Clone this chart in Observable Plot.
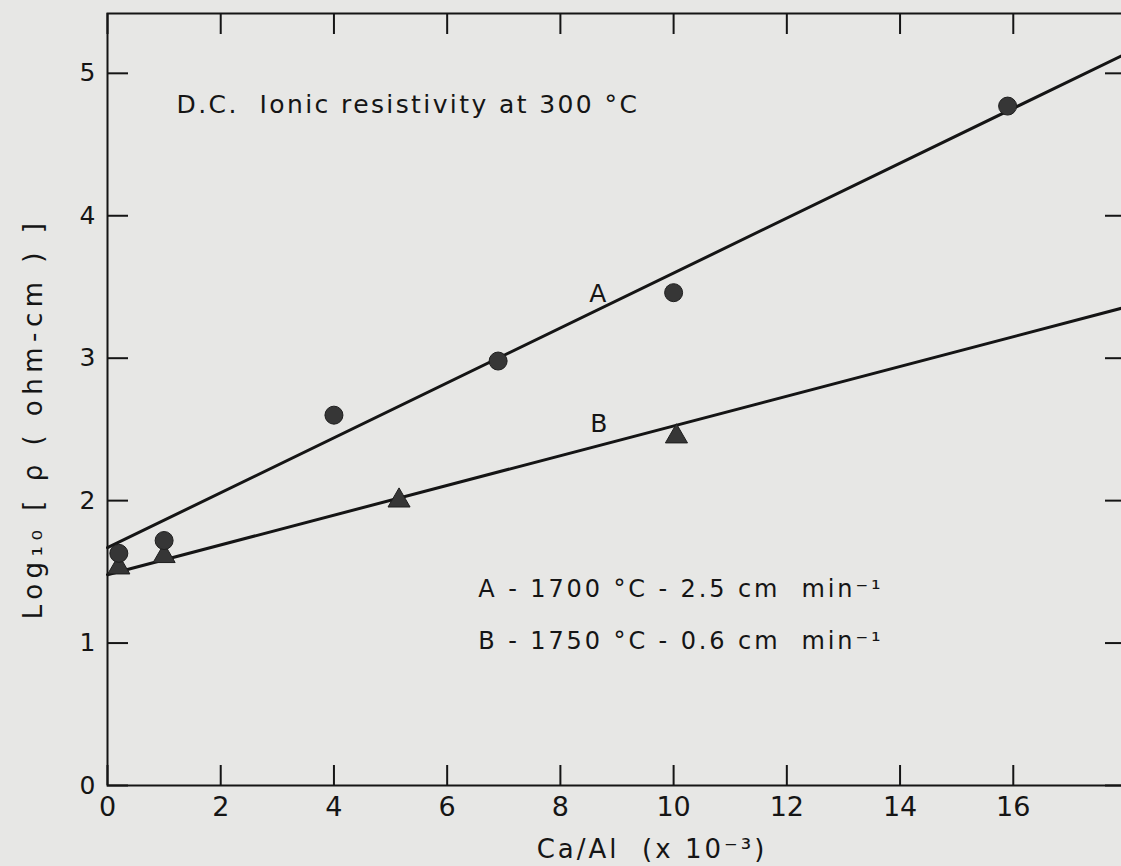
<!DOCTYPE html>
<html>
<head>
<meta charset="utf-8">
<script src="https://cdn.jsdelivr.net/npm/d3@7"></script>
<script src="https://cdn.jsdelivr.net/npm/@observablehq/plot@0.6"></script>
<style>
  html, body { margin: 0; padding: 0; background: #e7e7e5; overflow: hidden; }
  #chart svg { display: block; }
</style>
</head>
<body>
<div id="chart"></div>
<script>
// Series A: 1700 °C - 2.5 cm/min (circles)
const caAlA = [0.2, 1.0, 4.0, 6.9, 10.0, 15.9];
const logRhoA = [1.63, 1.72, 2.60, 2.98, 3.46, 4.77];
// Series B: 1750 °C - 0.6 cm/min (triangles)
const caAlB = [0.2, 1.0, 5.15, 10.05];
const logRhoB = [1.53, 1.61, 2.00, 2.45];
// Fitted straight lines (end points)
const fitAx = [0, 18];
const fitAy = [1.67, 5.14];
const fitBx = [0, 18];
const fitBy = [1.48, 3.36];
// Ticks
const xTicks = [0, 2, 4, 6, 8, 10, 12, 14, 16];
const yTicks = [0, 1, 2, 3, 4, 5];
// Texts
const titleText = "D.C.  Ionic resistivity at 300 °C";
const legendTexts = ["A - 1700 °C - 2.5 cm  min⁻¹", "B - 1750 °C - 0.6 cm  min⁻¹"];
const yLabel = "Log₁₀ [ ρ ( ohm-cm ) ]";
const xLabel = "Ca/Al  (x 10⁻³)";

const ptsA = caAlA.map((x, i) => ({x, y: logRhoA[i]}));
const ptsB = caAlB.map((x, i) => ({x, y: logRhoB[i]}));
const lineA = fitAx.map((x, i) => ({x, y: fitAy[i]}));
const lineB = fitBx.map((x, i) => ({x, y: fitBy[i]}));

const W = 1121, H = 866;
const mL = 107, mR = -5, mT = 13, mB = 81;
const plotW = W - mL - mR, plotH = H - mT - mB;
const ink = "#151515";
const font = "DejaVu Sans";

const chart = Plot.plot({
  width: W,
  height: H,
  marginLeft: mL,
  marginRight: mR,
  marginTop: mT,
  marginBottom: mB,
  style: {background: "transparent", fontFamily: font, color: ink},
  x: {domain: [0, 18]},
  y: {domain: [0, 5.42]},
  marks: [
    Plot.frame({stroke: ink, strokeWidth: 2}),
    // inward ticks: bottom, top, left, right
    Plot.ruleX(xTicks, {x: d => d, insetTop: plotH - 20, stroke: ink, strokeWidth: 2}),
    Plot.ruleX(xTicks, {x: d => d, insetBottom: plotH - 21, stroke: ink, strokeWidth: 2}),
    Plot.ruleY(yTicks, {y: d => d, insetRight: plotW - 21, stroke: ink, strokeWidth: 2}),
    Plot.ruleY(yTicks, {y: d => d, insetLeft: plotW - 21, stroke: ink, strokeWidth: 2}),
    Plot.axisX({ticks: xTicks, tickSize: 0, tickPadding: 11, fontSize: 27, label: null, tickFormat: d => String(d)}),
    Plot.axisY({ticks: yTicks, tickSize: 0, tickPadding: 12, fontSize: 25, label: null, tickFormat: d => String(d)}),
    // fitted lines
    Plot.line(lineA, {x: "x", y: "y", stroke: ink, strokeWidth: 3}),
    Plot.line(lineB, {x: "x", y: "y", stroke: ink, strokeWidth: 3}),
    // points
    Plot.dot(ptsB, {x: "x", y: "y", symbol: "triangle", r: 8.2, fill: "#363636", stroke: "#1e1e1e", strokeWidth: 1}),
    Plot.dot(ptsA, {x: "x", y: "y", symbol: "circle", r: 9, fill: "#363636", stroke: "#1e1e1e", strokeWidth: 1}),
    // annotations
    Plot.text([titleText], {x: 1.22, y: 4.78, text: d => d, textAnchor: "start", fontSize: 25, fill: ink}),
    Plot.text(["A"], {x: 8.66, y: 3.45, text: d => d, fontSize: 25, fill: ink}),
    Plot.text(["B"], {x: 8.68, y: 2.54, text: d => d, fontSize: 25, fill: ink}),
    Plot.text(legendTexts, {x: 6.55, y: [1.38, 1.015], text: d => d, textAnchor: "start", fontSize: 24, fill: ink}),
    // axis titles
    Plot.text([yLabel], {frameAnchor: "left", text: d => d, rotate: -90, textAnchor: "middle", dx: -74, dy: 19, fontSize: 26, fill: ink}),
    Plot.text([xLabel], {frameAnchor: "bottom", text: d => d, textAnchor: "middle", lineAnchor: "middle", dx: 35, dy: 64, fontSize: 26, fill: ink})
  ]
});
// wider lettering like the original stencil text
const spacing = new Map([[titleText, 2.4], [legendTexts[0], 2.9], [legendTexts[1], 2.9], [yLabel, 5.5], [xLabel, 3]]);
chart.querySelectorAll("text").forEach(t => {
  const s = spacing.get(t.textContent);
  if (s != null) { t.setAttribute("letter-spacing", s); t.style.letterSpacing = s + "px"; }
});
document.getElementById("chart").append(chart);
</script>
</body>
</html>
